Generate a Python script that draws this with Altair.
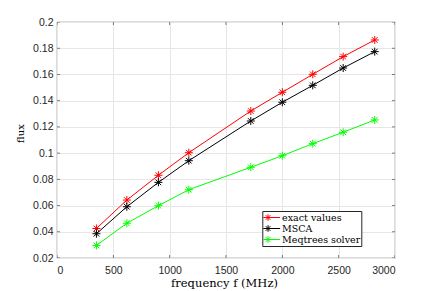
import altair as alt
import pandas as pd

freq = [350, 620, 900, 1170, 1720, 2000, 2270, 2540, 2820]
exact_values = [0.0425, 0.0642, 0.0831, 0.1003, 0.1321, 0.1464, 0.1601, 0.1736, 0.1863]
msca = [0.0385, 0.0591, 0.0777, 0.0942, 0.1245, 0.1388, 0.1517, 0.1649, 0.1774]
meqtrees = [0.0296, 0.0465, 0.0599, 0.0721, 0.0892, 0.0980, 0.1072, 0.1159, 0.1253]

series_names = ["exact values", "MSCA", "Meqtrees solver"]
series_colors = ["#ff0000", "#000000", "#00ff00"]

x_ticks = [0, 500, 1000, 1500, 2000, 2500, 3000]
y_ticks = [0.02, 0.04, 0.06, 0.08, 0.1, 0.12, 0.14, 0.16, 0.18, 0.2]

W, H = 338, 236

rows = []
for name, vals in zip(series_names, [exact_values, msca, meqtrees]):
    for f, v in zip(freq, vals):
        rows.append({"f": f, "v": v, "s": name})
df = pd.DataFrame(rows)

STAR = ("M-1,0L1,0M0,-1L0,1M-0.7071,-0.7071L0.7071,0.7071"
        "M-0.7071,0.7071L0.7071,-0.7071")
LEG_SYM = ("M-2.27,0L3.64,0M-1,0L1,0M0,-1L0,1M-0.7071,-0.7071L0.7071,0.7071"
           "M-0.7071,0.7071L0.7071,-0.7071")

xscale = alt.Scale(domain=[0, 3000], nice=False, zero=False)
yscale = alt.Scale(domain=[0.02, 0.2], nice=False, zero=False)

legend = alt.Legend(
    title=None, orient="none", legendX=205.3, legendY=189,
    symbolType=LEG_SYM, symbolSize=43.6, symbolStrokeWidth=1,
    labelFont="DejaVu Serif", labelFontSize=9.5, labelColor="#000000",
    labelOffset=9.3, symbolOffset=0, padding=1, rowPadding=0, clipHeight=11,
    strokeColor="#262626", fillColor="#ffffff", labelLimit=200,
)
color = alt.Color("s:N", scale=alt.Scale(domain=series_names, range=series_colors),
                  legend=legend, sort=series_names)

xaxis = alt.Axis(values=x_ticks, format="d", grid=True, ticks=False, tickSize=0,
                 domain=False, labelFont="Liberation Sans", labelFontSize=10.5,
                 labelColor="#262626", labelBaseline="alphabetic", labelPadding=15.5,
                 title="frequency f (MHz)", titleFont="DejaVu Serif",
                 titleFontSize=11.5, titleFontWeight="normal", titleColor="#000000",
                 titleBaseline="alphabetic", titleY=28.5, titleX=167, titleAlign="center")
yaxis = alt.Axis(values=y_ticks, format="~g", grid=True, ticks=False, tickSize=0,
                 domain=False, labelFont="Liberation Sans", labelFontSize=10.5,
                 labelColor="#262626", labelPadding=4,
                 title="flux", titleFont="DejaVu Serif", titleFontSize=10,
                 titleFontWeight="normal", titleColor="#000000", titleAngle=270,
                 titleBaseline="alphabetic", titleX=-34, titleY=111, titleAlign="center")

X = alt.X("f:Q", scale=xscale, axis=xaxis)
Y = alt.Y("v:Q", scale=yscale, axis=yaxis)

base = alt.Chart(df)
lines = base.mark_line(strokeWidth=1).encode(x=X, y=Y, color=color, detail="s:N")
points = base.mark_point(shape=STAR, filled=False, strokeWidth=1, size=64,
                         opacity=1).encode(x=X, y=Y, color=color)

xt = pd.DataFrame({"f": x_ticks})
yt = pd.DataFrame({"v": y_ticks})
tick_style = dict(color="#262626", size=6, thickness=0.8, clip=True)
xt_bottom = alt.Chart(xt).mark_tick(orient="vertical", **tick_style).encode(
    x=X, y=alt.value(H))
xt_top = alt.Chart(xt).mark_tick(orient="vertical", **tick_style).encode(
    x=X, y=alt.value(0))
yt_left = alt.Chart(yt).mark_tick(orient="horizontal", **tick_style).encode(
    y=Y, x=alt.value(0))
yt_right = alt.Chart(yt).mark_tick(orient="horizontal", **tick_style).encode(
    y=Y, x=alt.value(W))

chart = alt.layer(lines, points, xt_bottom, xt_top, yt_left, yt_right).properties(
    width=W, height=H,
    autosize=alt.AutoSizeParams(type="none"),
    padding={"left": 49, "top": 14, "right": 34, "bottom": 36},
    background="#ffffff",
).configure_view(stroke="#262626", strokeWidth=0.8).configure_axis(
    gridColor="#e6e6e6", gridWidth=1
)

chart.save("out.html", embed_options={"renderer": "svg", "actions": False})
